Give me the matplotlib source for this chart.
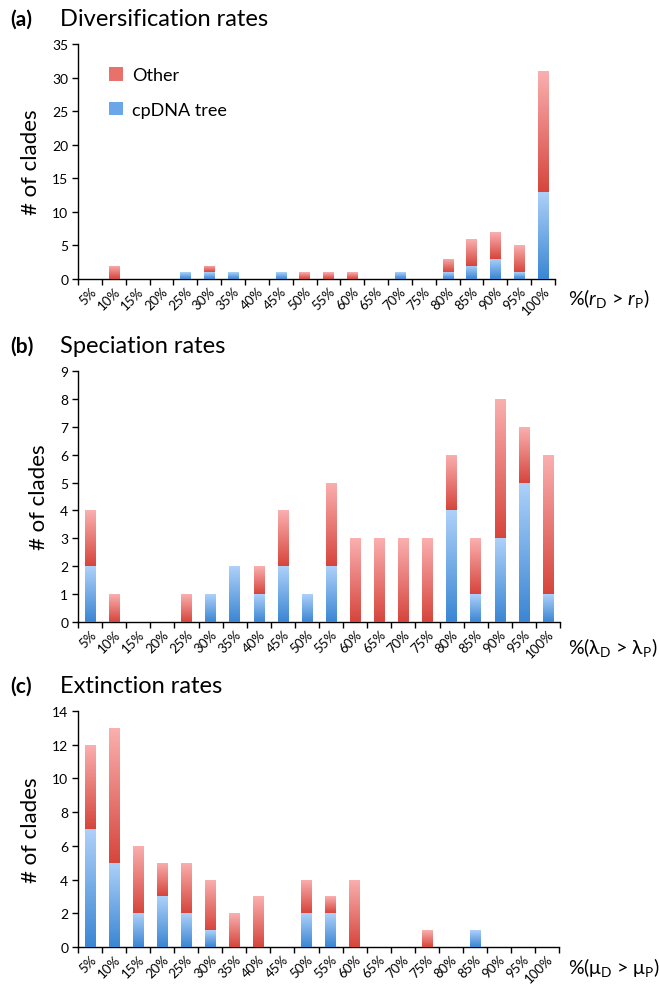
import numpy as np
import matplotlib
matplotlib.use("Agg")
import matplotlib.pyplot as plt
from matplotlib.colors import LinearSegmentedColormap
from matplotlib.patches import Rectangle

plt.rcParams['font.family'] = ['Lato', 'DejaVu Sans']
plt.rcParams['mathtext.fontset'] = 'custom'
plt.rcParams['mathtext.rm'] = 'Lato'
plt.rcParams['mathtext.it'] = 'Lato:italic'

categories = ["5%", "10%", "15%", "20%", "25%", "30%", "35%", "40%", "45%", "50%",
              "55%", "60%", "65%", "70%", "75%", "80%", "85%", "90%", "95%", "100%"]

# (a) Diversification rates
div_cp = [0, 0, 0, 0, 1, 1, 1, 0, 1, 0, 0, 0, 0, 1, 0, 1, 2, 3, 1, 13]
div_other = [0, 2, 0, 0, 0, 1, 0, 0, 0, 1, 1, 1, 0, 0, 0, 2, 4, 4, 4, 18]
# (b) Speciation rates
spe_cp = [2, 0, 0, 0, 0, 1, 2, 1, 2, 1, 2, 0, 0, 0, 0, 4, 1, 3, 5, 1]
spe_other = [2, 1, 0, 0, 1, 0, 0, 1, 2, 0, 3, 3, 3, 3, 3, 2, 2, 5, 2, 5]
# (c) Extinction rates
ext_cp = [7, 5, 2, 3, 2, 1, 0, 0, 0, 2, 2, 0, 0, 0, 0, 0, 1, 0, 0, 0]
ext_other = [5, 8, 4, 2, 3, 3, 2, 3, 0, 2, 1, 4, 0, 0, 1, 0, 0, 0, 0, 0]

blue_grad = ["#3a86d3", "#aed1fa"]
red_grad = ["#d6453c", "#fab0b0"]

fig = plt.figure(figsize=(6.59, 9.87), dpi=100)


def grad_fill(ax, bars, colors):
    cmap = LinearSegmentedColormap.from_list("g", colors)
    grad = np.linspace(0, 1, 256).reshape(-1, 1)
    for p in bars:
        h = p.get_height()
        if h <= 0:
            continue
        x, y, w = p.get_x(), p.get_y(), p.get_width()
        im = ax.imshow(grad, extent=[x, x + w, y, y + h], origin="lower",
                       cmap=cmap, aspect="auto", zorder=3, interpolation="bilinear")
        im.set_clip_path(p)


def panel(rect, cp, other, ymax, ystep, tag, title, xlabel, xlabel_y):
    ax = fig.add_axes(rect)
    x = np.arange(len(categories))
    w = 0.43
    b1 = ax.bar(x, cp, width=w, color=blue_grad[0], edgecolor="none", zorder=2)
    b2 = ax.bar(x, other, width=w, bottom=cp, color=red_grad[0], edgecolor="none", zorder=2)
    grad_fill(ax, b1, blue_grad)
    grad_fill(ax, b2, red_grad)
    ax.set_xlim(-0.5, len(categories) - 0.5)
    ax.set_ylim(0, ymax)
    ax.set_yticks(np.arange(0, ymax + 0.01, ystep))
    ax.tick_params(axis="y", labelsize=10, length=4, width=1, direction="out", pad=3)
    ax.set_xticks(x)
    ax.set_xticklabels(categories, rotation=45, ha="right", rotation_mode="anchor", fontsize=9.5)
    ax.tick_params(axis="x", length=0, pad=4)
    ax.set_xticks(np.arange(-0.5, len(categories)), minor=True)
    ax.tick_params(axis="x", which="minor", length=4, width=1, direction="out")
    for s in ["top", "right"]:
        ax.spines[s].set_visible(False)
    for s in ["left", "bottom"]:
        ax.spines[s].set_linewidth(1)
    ax.set_ylabel("# of clades", fontsize=16, labelpad=8)
    fig.text(10 / 659, rect[1] + rect[3] + 0.026, tag, fontsize=15, fontweight="bold",
             va="center", ha="left")
    fig.text(60 / 659, rect[1] + rect[3] + 0.026, title, fontsize=17,
             va="center", ha="left")
    fig.text(568 / 659, xlabel_y, xlabel, fontsize=14, va="center", ha="left")
    return ax


ax_a = panel([78 / 659, 1 - 280 / 987, (555 - 78) / 659, (280 - 45) / 987],
             div_cp, div_other, 35, 5, "(a)", "Diversification rates",
             r"%($\mathit{r}_{\mathrm{D}}$ > $\mathit{r}_{\mathrm{P}}$)", 1 - 298 / 987)
ax_b = panel([78 / 659, 1 - 623 / 987, (560 - 78) / 659, (623 - 372) / 987],
             spe_cp, spe_other, 9, 1, "(b)", "Speciation rates",
             r"%(λ$_{\mathrm{D}}$ > λ$_{\mathrm{P}}$)", 1 - 648 / 987)
ax_c = panel([78 / 659, 1 - 948 / 987, (559 - 78) / 659, (948 - 712) / 987],
             ext_cp, ext_other, 14, 2, "(c)", "Extinction rates",
             r"%(μ$_{\mathrm{D}}$ > μ$_{\mathrm{P}}$)", 1 - 968 / 987)

handles = [Rectangle((0, 0), 1, 1, facecolor="#e8716b", edgecolor="none"),
           Rectangle((0, 0), 1, 1, facecolor="#6aa6e8", edgecolor="none")]
ax_a.legend(handles, ["Other", "cpDNA tree"], loc="upper left", bbox_to_anchor=(0.03, 0.97),
            frameon=False, fontsize=13, handlelength=0.8, handleheight=0.8,
            labelspacing=1.0, handletextpad=0.5)

fig.savefig("out.png", dpi=100)
